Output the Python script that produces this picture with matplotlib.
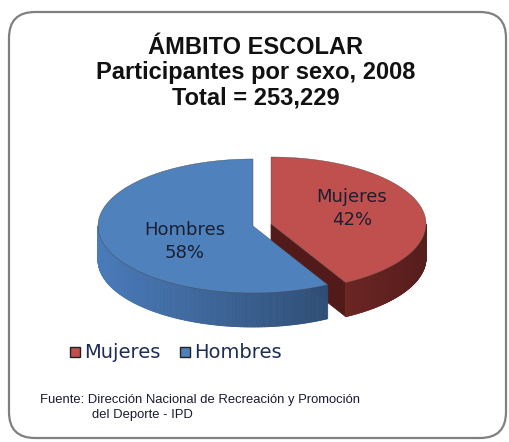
import numpy as np
import matplotlib.pyplot as plt
from matplotlib.patches import Polygon, FancyBboxPatch, Rectangle
from matplotlib.collections import PolyCollection
from matplotlib.colors import to_rgb

# ----------------------------
# DATA
# ----------------------------
LABELS = ["Mujeres", "Hombres"]
PERCENT = [42, 58]
TOP_COLORS = ["#C0504D", "#4F81BD"]
SIDE_BASE = ["#AB3B38", "#4A7BBA"]
FACE_COLORS = ["#521B1A", "#2E4D74"]
EXPLODE = [0.12, 0.0]

TITLE_LINES = ["ÁMBITO ESCOLAR", "Participantes por sexo, 2008", "Total = 253,229"]
SOURCE_LINES = ["Fuente: Dirección Nacional de Recreación y Promoción",
                "del Deporte - IPD"]

# ----------------------------
# LAYOUT (pixels, y down)
# ----------------------------
W, H = 510, 442
CX, CY = 253, 226
RX, RY = 155, 67
DEPTH = 34
LABEL_SHIFT = [(6, -7), (7, 7)]

fig = plt.figure(figsize=(W / 100, H / 100), dpi=100)
ax = fig.add_axes([0, 0, 1, 1])
ax.set_xlim(0, W)
ax.set_ylim(H, 0)
ax.set_aspect("auto")
ax.axis("off")

# rounded frame
frame = FancyBboxPatch((9, 12), 497, 426, boxstyle="round,pad=0,rounding_size=26",
                       fc="white", ec="#808080", lw=1.6)
ax.add_patch(frame)

# title
for i, line in enumerate(TITLE_LINES):
    ax.text(256, 47 + i * 25.5, line, ha="center", va="center",
            fontsize=17, fontweight="bold", family="Liberation Sans", color="#111111")


def pt(ang, cx, cy, r=1.0):
    a = np.radians(ang)
    return cx + r * RX * np.cos(a), cy - r * RY * np.sin(a)


def shade(base, ang):
    f = 0.75 + 0.25 * (-np.cos(np.radians(ang)))
    return tuple(min(1, c * f) for c in to_rgb(base))


# angles: start at 12 o'clock, clockwise
spans = []
start = 90.0
for p in PERCENT:
    end = start - p / sum(PERCENT) * 360
    spans.append((end, start))
    start = end


def draw_wedge(i):
    lo, hi = spans[i]
    mid = (lo + hi) / 2
    cx, cy = pt(mid, CX, CY, EXPLODE[i])
    # cut face on the clockwise-end radius (faces viewer when it points down-left)
    ex, ey = pt(lo, cx, cy)
    nrm = np.radians(lo - 90)
    if np.sin(nrm) < 0:
        ax.add_patch(Polygon([(cx, cy), (ex, ey), (ex, ey + DEPTH), (cx, cy + DEPTH)],
                             closed=True, fc=FACE_COLORS[i], ec=FACE_COLORS[i], lw=0.5))
    # outer side, front half only
    angs = np.linspace(lo, hi, 400)
    quads, cols = [], []
    for a0, a1 in zip(angs[:-1], angs[1:]):
        m = (a0 + a1) / 2
        if np.sin(np.radians(m)) >= 0:
            continue
        x0, y0 = pt(a0, cx, cy)
        x1, y1 = pt(a1, cx, cy)
        quads.append([(x0, y0), (x1, y1), (x1, y1 + DEPTH), (x0, y0 + DEPTH)])
        cols.append(shade(SIDE_BASE[i], m))
    if quads:
        ax.add_collection(PolyCollection(quads, facecolors=cols, edgecolors=cols, lw=0.6))
    # top
    arc = [pt(a, cx, cy) for a in np.linspace(lo, hi, 300)]
    ax.add_patch(Polygon([(cx, cy)] + arc, closed=True, fc=TOP_COLORS[i],
                         ec="#4a4a4a", lw=0.3))
    # label
    lx, ly = pt(mid, cx, cy, 0.5)
    dx, dy = LABEL_SHIFT[i]
    ax.text(lx + dx, ly + dy, f"{LABELS[i]}\n{PERCENT[i]}%", ha="center", va="center",
            fontsize=13, family="DejaVu Sans", color="#1A2030", linespacing=1.4)


# back wedge first so the larger slice sits in front of the cut face
draw_wedge(0)
draw_wedge(1)

# legend
lx = 70
for i, lab in enumerate(LABELS):
    ax.add_patch(Rectangle((lx, 347), 10, 10, fc=TOP_COLORS[i], ec="#222222", lw=1))
    t = ax.text(lx + 14, 352, lab, ha="left", va="center", fontsize=14,
                family="DejaVu Sans", color="#1F2D55")
    fig.canvas.draw()
    bb = t.get_window_extent()
    lx = bb.x1 + 20

# source
ax.text(40, 400, SOURCE_LINES[0], ha="left", va="center", fontsize=9.4,
        family="Liberation Sans", color="#1a1a33")
ax.text(92, 415, SOURCE_LINES[1], ha="left", va="center", fontsize=9.4,
        family="Liberation Sans", color="#1a1a33")

fig.savefig("out.png", dpi=100)
